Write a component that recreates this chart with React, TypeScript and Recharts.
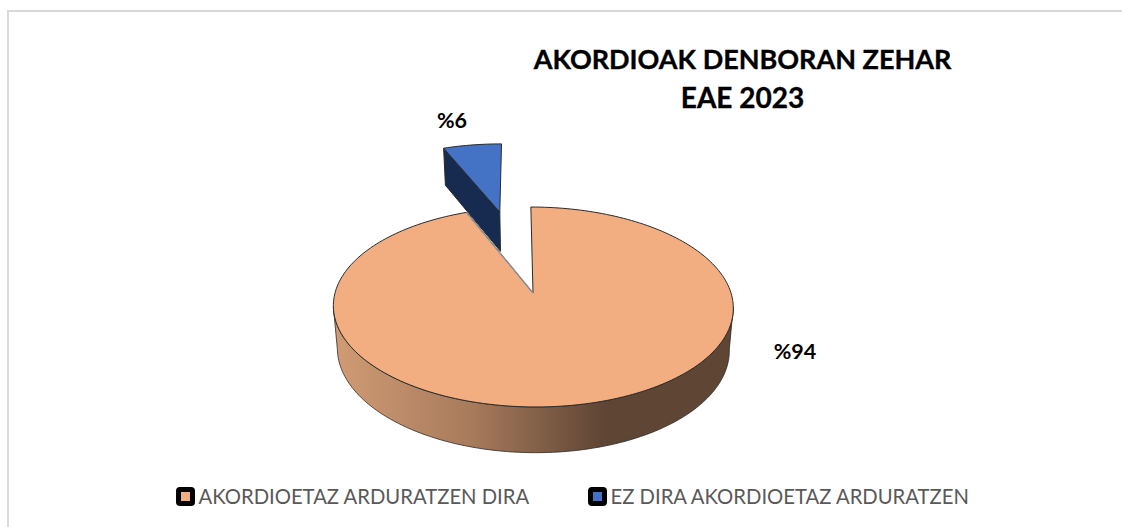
import React from 'react'
import { PieChart, Pie, Cell, Legend } from 'recharts'

const names = ['AKORDIOETAZ ARDURATZEN DIRA', 'EZ DIRA AKORDIOETAZ ARDURATZEN']
const values = [94, 6]
const titleLines = ['AKORDIOAK DENBORAN ZEHAR', 'EAE 2023']

const COLORS = ['#f2ae80', '#4472c4']
const SIDE_COLORS = ['url(#sideFill)', '#172b50']
const EXPLODE = [0, 0.95]
const LABEL_SPOTS = [
  [795, 351],
  [452, 120],
]
const LEGEND_LEFT = [176, 588]

const data = names.map((name, i) => ({ name, value: values[i] }))

// perspective of the tilted disc
const PERSP = 0.14
const TILT = 0.495
const SKEW = 0.025
const FONT = 'Lato, sans-serif'

const rad = (deg: number) => (deg * Math.PI) / 180

function project(cx: number, cy: number, r: number, u: number, v: number, down = false) {
  const w = 1 / (1 + PERSP * v)
  let x = r * u * w
  let y = -r * TILT * v * w
  x -= -y * SKEW
  if (down) {
    x *= 0.98
    y = y * 0.98 + 4.4 + 37.5 * w
  }
  return [cx + x, cy + y]
}

const toPath = (pts: number[][], close = true) =>
  pts.map((p, i) => `${i ? 'L' : 'M'}${p[0].toFixed(2)} ${p[1].toFixed(2)}`).join(' ') + (close ? ' Z' : '')

function sample(a: number, b: number) {
  const out: number[] = []
  const n = Math.max(2, Math.ceil(Math.abs(b - a) / 1.5))
  for (let i = 0; i <= n; i++) out.push(a + ((b - a) * i) / n)
  return out
}

function Slice3D(props: any) {
  const { cx, cy, outerRadius: r, startAngle, endAngle, index } = props
  const mid = rad((startAngle + endAngle) / 2)
  const e = EXPLODE[index] ?? 0
  const ox = e * Math.cos(mid)
  const oy = e * Math.sin(mid)
  const pt = (deg: number, f: number, down = false) =>
    project(cx, cy, r, f * Math.cos(rad(deg)) + ox, f * Math.sin(rad(deg)) + oy, down)

  const arc = sample(startAngle, endAngle).map((d) => pt(d, 1))
  const top = [pt(0, 0), ...arc]
  const line = '#2b2b2b'

  if (index === 0) {
    // front wall of the big slice
    const front = sample(-8, -172)
    const wall = [...front.map((d) => pt(d, 1)), ...front.slice().reverse().map((d) => pt(d, 1, true))]
    return (
      <g>
        <path d={toPath(wall)} fill={SIDE_COLORS[0]} stroke={line} strokeWidth={0.8} />
        <path d={toPath(top)} fill={COLORS[0]} stroke={line} strokeWidth={1} strokeLinejoin="round" />
        <path d={toPath([pt(0, 0), arc[arc.length - 1]], false)} stroke="#8f8f8f" strokeWidth={1.4} fill="none" />
      </g>
    )
  }

  // the small slice shows only the wall along its left edge
  const wall = [pt(startAngle, 1), pt(0, 0), pt(0, 0, true), pt(startAngle, 1, true)]
  return (
    <g>
      <path d={toPath(wall)} fill={SIDE_COLORS[1]} stroke={line} strokeWidth={1} strokeLinejoin="round" />
      <path d={toPath(top)} fill={COLORS[1]} stroke={line} strokeWidth={1} strokeLinejoin="round" />
    </g>
  )
}

function renderLabel(props: any) {
  const spot = LABEL_SPOTS[props.index]
  return (
    <text x={spot[0]} y={spot[1]} textAnchor="middle" dominantBaseline="central" fontFamily={FONT} fontWeight={700} fontSize={21.5} fill="#000">
      {`%${props.value}`}
    </text>
  )
}

function LegendRow({ payload }: any) {
  return (
    <div style={{ position: 'relative', height: 30, fontFamily: FONT, fontSize: 20.25, color: '#595959' }}>
      {(payload ?? []).map((entry: any, i: number) => (
        <div key={entry.value} style={{ position: 'absolute', left: LEGEND_LEFT[i], top: 0, display: 'flex', alignItems: 'center', whiteSpace: 'nowrap' }}>
          <span style={{ width: 19, height: 19, background: '#000', borderRadius: 4, display: 'flex', alignItems: 'center', justifyContent: 'center', marginRight: 3.5 }}>
            <span style={{ width: 9, height: 9, background: COLORS[i] }} />
          </span>
          {entry.value}
        </div>
      ))}
    </div>
  )
}

export default function App() {
  return (
    <div style={{ position: 'absolute', left: 0, top: 0, width: 1122, height: 527, background: '#fff', overflow: 'hidden' }}>
      <div style={{ position: 'absolute', left: 7, top: 10, width: 1115, height: 517, borderTop: '2px solid #d9d9d9', borderLeft: '2px solid #d9d9d9', boxSizing: 'border-box' }} />
      <PieChart width={1122} height={527} margin={{ top: 0, right: 0, bottom: 0, left: 0 }} style={{ position: 'absolute', left: 0, top: 0 }}>
        <defs>
          <linearGradient id="sideFill" gradientUnits="userSpaceOnUse" x1={336} y1={0} x2={604} y2={0}>
            <stop offset="0%" stopColor="#d09b74" />
            <stop offset="50%" stopColor="#a87b5c" />
            <stop offset="100%" stopColor="#5f4534" />
          </linearGradient>
        </defs>
        <text textAnchor="middle" fontFamily={FONT} fontWeight={700} fill="#000" stroke="#000" strokeWidth={0.35}>
          <tspan x={742.5} y={69} fontSize={27}>{titleLines[0]}</tspan>
          <tspan x={742.5} y={108} fontSize={28}>{titleLines[1]}</tspan>
        </text>
        <Pie
          data={data}
          dataKey="value"
          nameKey="name"
          cx={533}
          cy={293}
          innerRadius={0}
          outerRadius={198}
          startAngle={90}
          endAngle={-270}
          stroke="none"
          shape={Slice3D}
          label={renderLabel}
          labelLine={false}
          isAnimationActive={false}
        >
          {data.map((entry, i) => (
            <Cell key={entry.name} fill={COLORS[i]} />
          ))}
        </Pie>
        <Legend content={LegendRow} wrapperStyle={{ position: 'absolute', left: 0, top: 484, width: 1122 }} />
      </PieChart>
    </div>
  )
}
